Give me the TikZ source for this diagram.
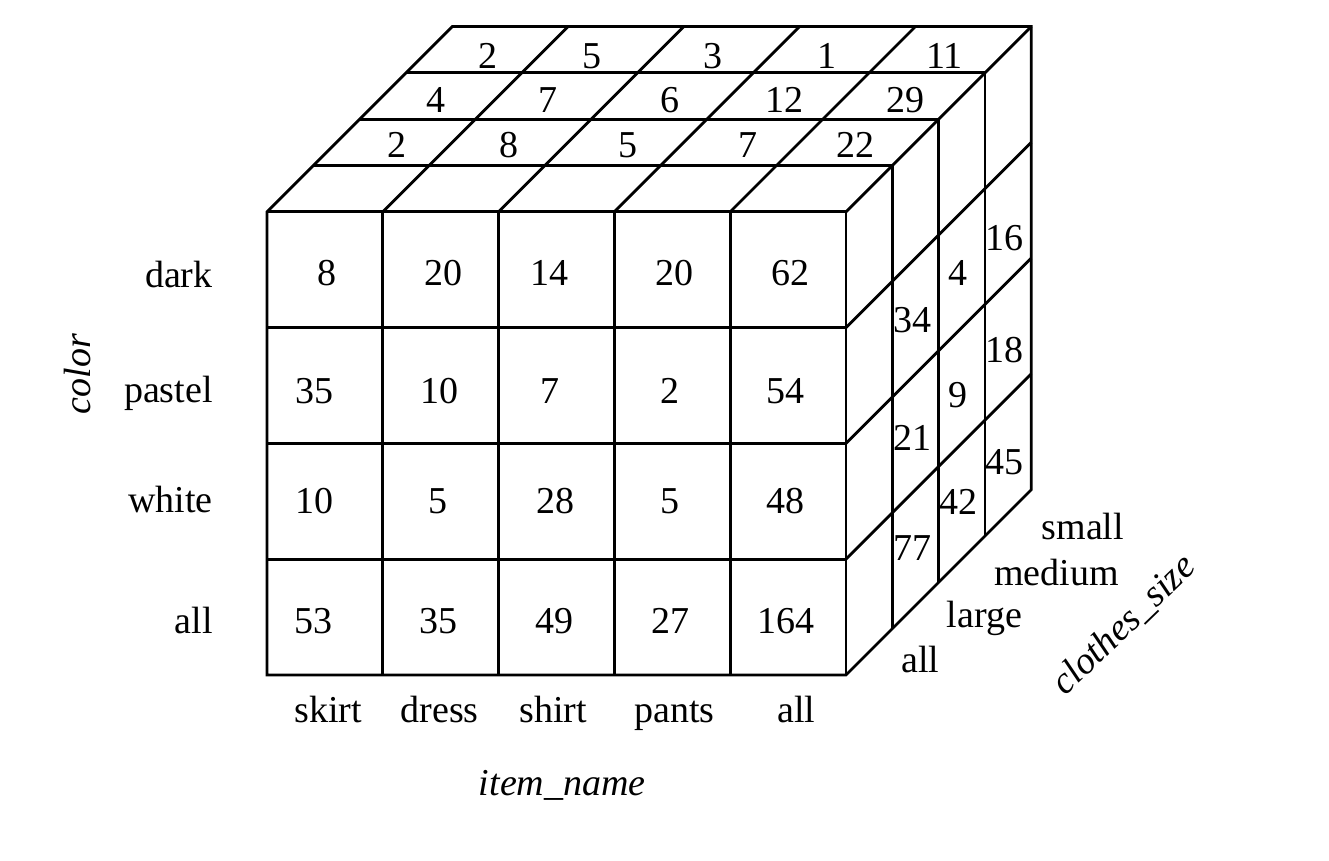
\documentclass[tikz,border=0pt]{standalone}
\usepackage{fontspec}
\setmainfont{Liberation Serif}

\begin{document}
\begin{tikzpicture}[x=57.9pt,y=57.9pt,line width=1.4pt,
  num/.style={font=\fontsize{19}{23}\selectfont,text height=13pt,text depth=0pt},
  lab/.style={font=\fontsize{19}{23}\selectfont,anchor=base},
  dimlab/.style={font=\fontsize{19}{23}\selectfont\itshape}]
\useasboundingbox (-2.306,-1.598) rectangle (9.171,5.829);
% outline of the cube
\draw (0,0) -- (5,0) -- (6.6,1.6) -- (6.6,5.6) -- (1.6,5.6) -- (0,4) -- cycle;
% front face
\foreach \x in {1,...,5} \draw (\x,0) -- (\x,4);
\foreach \y in {1,...,4} \draw (0,\y) -- (5,\y);
% top face
\foreach \k in {1,...,3} \draw (0.4*\k,4+0.4*\k) -- (5+0.4*\k,4+0.4*\k);
\foreach \x in {1,...,5} \draw (\x,4) -- (\x+1.6,5.6);
% right face
\foreach \k in {1,...,3} \draw (5+0.4*\k,0.4*\k) -- (5+0.4*\k,4+0.4*\k);
\foreach \y in {1,...,3} \draw (5,\y) -- (6.6,\y+1.6);

% front values
\node[num] (f00) at (0.52,3.48) {8};
\node[num] (f01) at (1.52,3.48) {20};
\node[num] (f02) at (2.44,3.48) {14};
\node[num] (f03) at (3.52,3.48) {20};
\node[num] (f04) at (4.52,3.48) {62};
\node[num] (f10) at (0.41,2.46) {35};
\node[num] (f11) at (1.49,2.46) {10};
\node[num] (f12) at (2.44,2.46) {7};
\node[num] (f13) at (3.48,2.46) {2};
\node[num] (f14) at (4.48,2.46) {54};
\node[num] (f20) at (0.41,1.51) {10};
\node[num] (f21) at (1.48,1.51) {5};
\node[num] (f22) at (2.49,1.51) {28};
\node[num] (f23) at (3.48,1.51) {5};
\node[num] (f24) at (4.48,1.51) {48};
\node[num] (f30) at (0.40,0.47) {53};
\node[num] (f31) at (1.48,0.47) {35};
\node[num] (f32) at (2.48,0.47) {49};
\node[num] (f33) at (3.48,0.47) {27};
\node[num] (f34) at (4.48,0.47) {164};

% top values
\node[num] (t10) at (1.12,4.58) {2};
\node[num] (t11) at (2.09,4.58) {8};
\node[num] (t12) at (3.12,4.58) {5};
\node[num] (t13) at (4.15,4.58) {7};
\node[num] (t14) at (5.08,4.58) {22};
\node[num] (t20) at (1.46,4.97) {4};
\node[num] (t21) at (2.43,4.97) {7};
\node[num] (t22) at (3.48,4.97) {6};
\node[num] (t23) at (4.47,4.97) {12};
\node[num] (t24) at (5.51,4.97) {29};
\node[num] (t30) at (1.91,5.35) {2};
\node[num] (t31) at (2.81,5.35) {5};
\node[num] (t32) at (3.85,5.35) {3};
\node[num] (t33) at (4.84,5.35) {1};
\node[num] (t34) at (5.85,5.35) {11};

% right values
\node[num] (r11) at (5.57,3.07) {34};
\node[num] (r12) at (5.57,2.05) {21};
\node[num] (r13) at (5.57,1.10) {77};
\node[num] (r21) at (5.97,3.48) {4};
\node[num] (r22) at (5.97,2.42) {9};
\node[num] (r23) at (5.97,1.50) {42};
\node[num] (r31) at (6.37,3.78) {16};
\node[num] (r32) at (6.37,2.81) {18};
\node[num] (r33) at (6.37,1.84) {45};

% color labels
\node[lab,anchor=base east] (dark) at (-0.40,3.35) {dark};
\node[lab,anchor=base east] (pastel) at (-0.40,2.35) {pastel};
\node[lab,anchor=base east] (white) at (-0.40,1.40) {white};
\node[lab,anchor=base east] (allrow) at (-0.40,0.36) {all};
\node[dimlab,rotate=90] (color) at (-1.64,2.60) {color};

% item labels
\node[lab] (skirt) at (0.53,-0.41) {skirt};
\node[lab] (dress) at (1.49,-0.41) {dress};
\node[lab] (shirt) at (2.47,-0.41) {shirt};
\node[lab] (pants) at (3.52,-0.41) {pants};
\node[lab] (allcol) at (4.57,-0.41) {all};
\node[dimlab,anchor=base] (item) at (2.55,-1.04) {item\_name};

% size labels
\node[lab,anchor=base west] (allsize) at (5.41,0.02) {all};
\node[lab,anchor=base west] (large) at (5.80,0.41) {large};
\node[lab,anchor=base west] (medium) at (6.21,0.77) {medium};
\node[lab,anchor=base west] (small) at (6.62,1.17) {small};
\node[dimlab,rotate=44] (size) at (7.40,0.43) {clothes\_size};
\end{tikzpicture}
\end{document}
